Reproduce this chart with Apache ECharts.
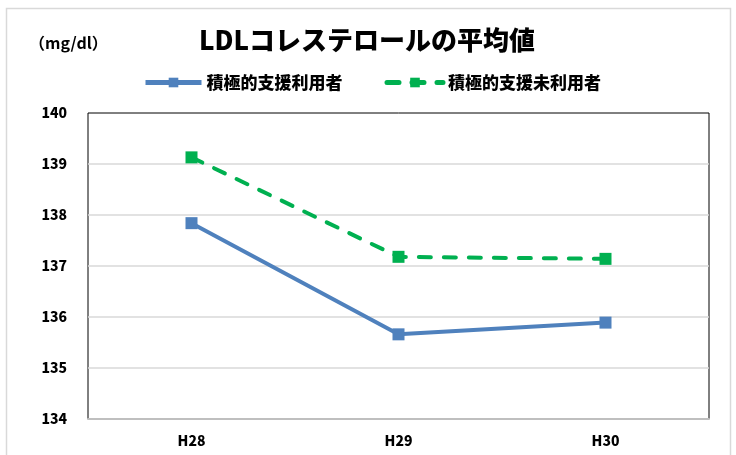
<!DOCTYPE html>
<html>
<head>
<meta charset="utf-8">
<script src="https://cdn.jsdelivr.net/npm/echarts@6/dist/echarts.min.js"></script>
<style>
  html, body { margin: 0; padding: 0; background: #fff; }
  #chart { width: 736px; height: 455px; }
</style>
</head>
<body>
<div id="chart"></div>
<script>
// 年度
const categories = ['H28', 'H29', 'H30'];
// 系列名
const seriesNames = ['積極的支援利用者', '積極的支援未利用者'];
// LDLコレステロール平均値 (mg/dl)
const usedValues = [137.84, 135.66, 135.89];
const unusedValues = [139.13, 137.18, 137.14];
// 軸
const yMin = 134;
const yMax = 140;
const yStep = 1;

const FONT = '"Noto Sans CJK JP", "Noto Sans", sans-serif';

const chart = echarts.init(document.getElementById('chart'));

const option = {
  backgroundColor: '#fff',
  animation: false,
  title: [
    {
      text: 'LDLコレステロールの平均値',
      left: 194,
      top: 22,
      textStyle: { fontFamily: FONT, fontSize: 26, fontWeight: 900, color: '#000' }
    },
    {
      text: '（mg/dl）',
      left: 24,
      top: 30,
      textStyle: { fontFamily: FONT, fontSize: 16, fontWeight: 'bold', color: '#000' }
    }
  ],
  legend: {
    left: 138,
    top: 69,
    itemWidth: 56,
    itemHeight: 12,
    itemGap: 42,
    lineStyle: { width: 5 },
    textStyle: { fontFamily: FONT, fontSize: 17, fontWeight: 900, color: '#000' },
    data: seriesNames
  },
  grid: {
    left: 88,
    right: 27,
    top: 113,
    bottom: 36,
    show: true,
    borderColor: '#000',
    borderWidth: 1
  },
  xAxis: {
    type: 'category',
    data: categories,
    boundaryGap: true,
    axisLine: { lineStyle: { color: '#bfbfbf', width: 2 } },
    axisTick: { show: false },
    axisLabel: { fontFamily: FONT, fontSize: 14, fontWeight: 900, color: '#000', margin: 15 }
  },
  yAxis: {
    type: 'value',
    min: yMin,
    max: yMax,
    interval: yStep,
    axisLine: { show: false },
    axisTick: { show: false },
    axisLabel: { fontFamily: FONT, fontSize: 14, fontWeight: 900, color: '#000', margin: 21 },
    splitLine: {
      showMinLine: false,
      showMaxLine: false,
      lineStyle: { color: '#d9d9d9', width: 1.5 }
    }
  },
  series: [
    {
      name: seriesNames[0],
      type: 'line',
      data: usedValues,
      symbol: 'rect',
      symbolSize: 12,
      color: '#4f81bd',
      lineStyle: { width: 4, color: '#4f81bd' },
      itemStyle: { color: '#4f81bd' }
    },
    {
      name: seriesNames[1],
      type: 'line',
      data: unusedValues,
      symbol: 'rect',
      symbolSize: 12,
      color: '#00b050',
      lineStyle: { width: 4, color: '#00b050', type: [12, 13], cap: 'round' },
      itemStyle: { color: '#00b050' }
    }
  ],
  graphic: [
    {
      type: 'rect',
      shape: { x: 6.5, y: 8.5, width: 724, height: 470 },
      style: { fill: 'none', stroke: '#d9d9d9', lineWidth: 1.5 },
      silent: true,
      z: -1
    }
  ]
};

chart.setOption(option);
</script>
</body>
</html>
